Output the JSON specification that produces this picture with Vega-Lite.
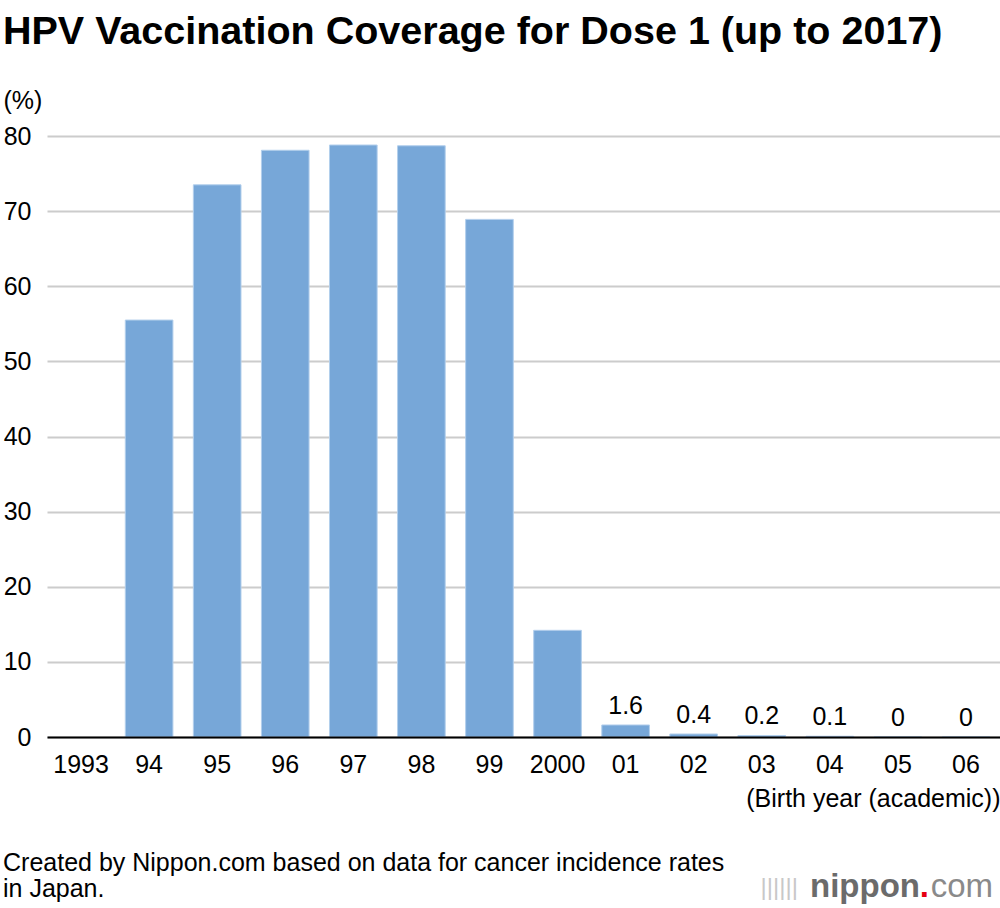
{
  "$schema": "https://vega.github.io/schema/vega-lite/v6.json",
  "padding": {"left": 3, "top": 11, "right": 0, "bottom": 0},
  "background": "white",
  "config": {
    "font": "Liberation Sans",
    "view": {"stroke": null},
    "concat": {"spacing": 40}
  },
  "title": {
    "text": "HPV Vaccination Coverage for Dose 1 (up to 2017)",
    "anchor": "start",
    "fontSize": 39.5,
    "fontWeight": "bold",
    "color": "#000000",
    "offset": 36
  },
  "vconcat": [
    {
      "width": 953,
      "height": 601,
      "data": {
        "values": [
          {"year": "1993", "value": null},
          {"year": "94", "value": 55.5},
          {"year": "95", "value": 73.5},
          {"year": "96", "value": 78.1},
          {"year": "97", "value": 78.8},
          {"year": "98", "value": 78.7},
          {"year": "99", "value": 68.9},
          {"year": "2000", "value": 14.2},
          {"year": "01", "value": 1.6},
          {"year": "02", "value": 0.4},
          {"year": "03", "value": 0.2},
          {"year": "04", "value": 0.1},
          {"year": "05", "value": 0},
          {"year": "06", "value": 0}
        ]
      },
      "encoding": {
        "x": {
          "field": "year",
          "type": "nominal",
          "sort": null,
          "scale": {
            "domain": ["1993", "94", "95", "96", "97", "98", "99", "2000", "01", "02", "03", "04", "05", "06"],
            "paddingInner": 0.3,
            "paddingOuter": 0.15
          },
          "axis": {
            "labelAngle": 0,
            "ticks": false,
            "tickSize": 0,
            "domainColor": "#000000",
            "domainWidth": 2,
            "labelFontSize": 25,
            "labelColor": "#000000",
            "labelPadding": 15,
            "title": "(Birth year (academic))",
            "titleAnchor": "end",
            "titleFontSize": 25,
            "titleFontWeight": "normal",
            "titleColor": "#000000",
            "titlePadding": 9,
            "zindex": 2
          }
        },
        "y": {
          "field": "value",
          "type": "quantitative",
          "scale": {"domain": [0, 80], "nice": false},
          "axis": {
            "values": [0, 10, 20, 30, 40, 50, 60, 70, 80],
            "domain": false,
            "ticks": false,
            "tickSize": 0,
            "gridColor": "#cccccc",
            "gridWidth": 2,
            "labelFontSize": 25,
            "labelColor": "#000000",
            "labelPadding": 16,
            "title": "(%)",
            "titleAngle": 0,
            "titleAlign": "left",
            "titleBaseline": "alphabetic",
            "titleX": -44,
            "titleY": -28,
            "titleFontSize": 25,
            "titleFontWeight": "normal",
            "titleColor": "#000000"
          }
        }
      },
      "layer": [
        {
          "mark": {"type": "bar", "color": "#77a7d8", "stroke": "#b3cfec", "strokeWidth": 1}
        },
        {
          "transform": [{"filter": "datum.value != null && datum.value < 5"}],
          "mark": {"type": "text", "fontSize": 25, "color": "#000000", "baseline": "alphabetic", "dy": -11},
          "encoding": {"text": {"field": "value", "type": "quantitative"}}
        }
      ]
    },
    {
      "width": 953,
      "height": 26,
      "data": {
        "values": [
          {"part": "credit1", "text": "Created by Nippon.com based on data for cancer incidence rates", "px": 0, "py": 1},
          {"part": "credit2", "text": "in Japan.", "px": 0, "py": 0}
        ]
      },
      "layer": [
        {
          "mark": {"type": "text", "align": "left", "baseline": "alphabetic", "fontSize": 25, "color": "#000000"},
          "encoding": {
            "x": {"field": "px", "type": "quantitative", "scale": {"domain": [0, 1], "range": [-44, 946]}, "axis": null},
            "y": {"field": "py", "type": "quantitative", "scale": {"domain": [0, 1]}, "axis": null},
            "text": {"field": "text"}
          }
        },
        {
          "data": {"values": [{"logo": "com", "px": 1, "py": 0}]},
          "mark": {"type": "text", "align": "right", "baseline": "alphabetic", "fontSize": 33, "color": "#8a8a8a", "fontWeight": 300},
          "encoding": {
            "x": {"field": "px", "type": "quantitative", "scale": {"domain": [0, 1], "range": [-44, 946]}, "axis": null},
            "y": {"field": "py", "type": "quantitative", "scale": {"domain": [0, 1]}, "axis": null},
            "text": {"field": "logo"}
          }
        },
        {
          "data": {"values": [{"logo": ".", "px": 1, "py": 0}]},
          "mark": {"type": "text", "align": "right", "baseline": "alphabetic", "fontSize": 33, "color": "#e60012", "fontWeight": "bold", "dx": -64},
          "encoding": {
            "x": {"field": "px", "type": "quantitative", "scale": {"domain": [0, 1], "range": [-44, 946]}, "axis": null},
            "y": {"field": "py", "type": "quantitative", "scale": {"domain": [0, 1]}, "axis": null},
            "text": {"field": "logo"}
          }
        },
        {
          "data": {"values": [{"logo": "nippon", "px": 1, "py": 0}]},
          "mark": {"type": "text", "align": "right", "baseline": "alphabetic", "fontSize": 33, "color": "#6b6b6b", "fontWeight": "bold", "dx": -73},
          "encoding": {
            "x": {"field": "px", "type": "quantitative", "scale": {"domain": [0, 1], "range": [-44, 946]}, "axis": null},
            "y": {"field": "py", "type": "quantitative", "scale": {"domain": [0, 1]}, "axis": null},
            "text": {"field": "logo"}
          }
        },
        {
          "data": {"values": [{"logo": "||||||", "px": 1, "py": 0}]},
          "mark": {"type": "text", "align": "right", "baseline": "alphabetic", "fontSize": 24, "color": "#c8c8c8", "fontWeight": "normal", "dx": -195, "dy": -2},
          "encoding": {
            "x": {"field": "px", "type": "quantitative", "scale": {"domain": [0, 1], "range": [-44, 946]}, "axis": null},
            "y": {"field": "py", "type": "quantitative", "scale": {"domain": [0, 1]}, "axis": null},
            "text": {"field": "logo"}
          }
        }
      ]
    }
  ]
}
